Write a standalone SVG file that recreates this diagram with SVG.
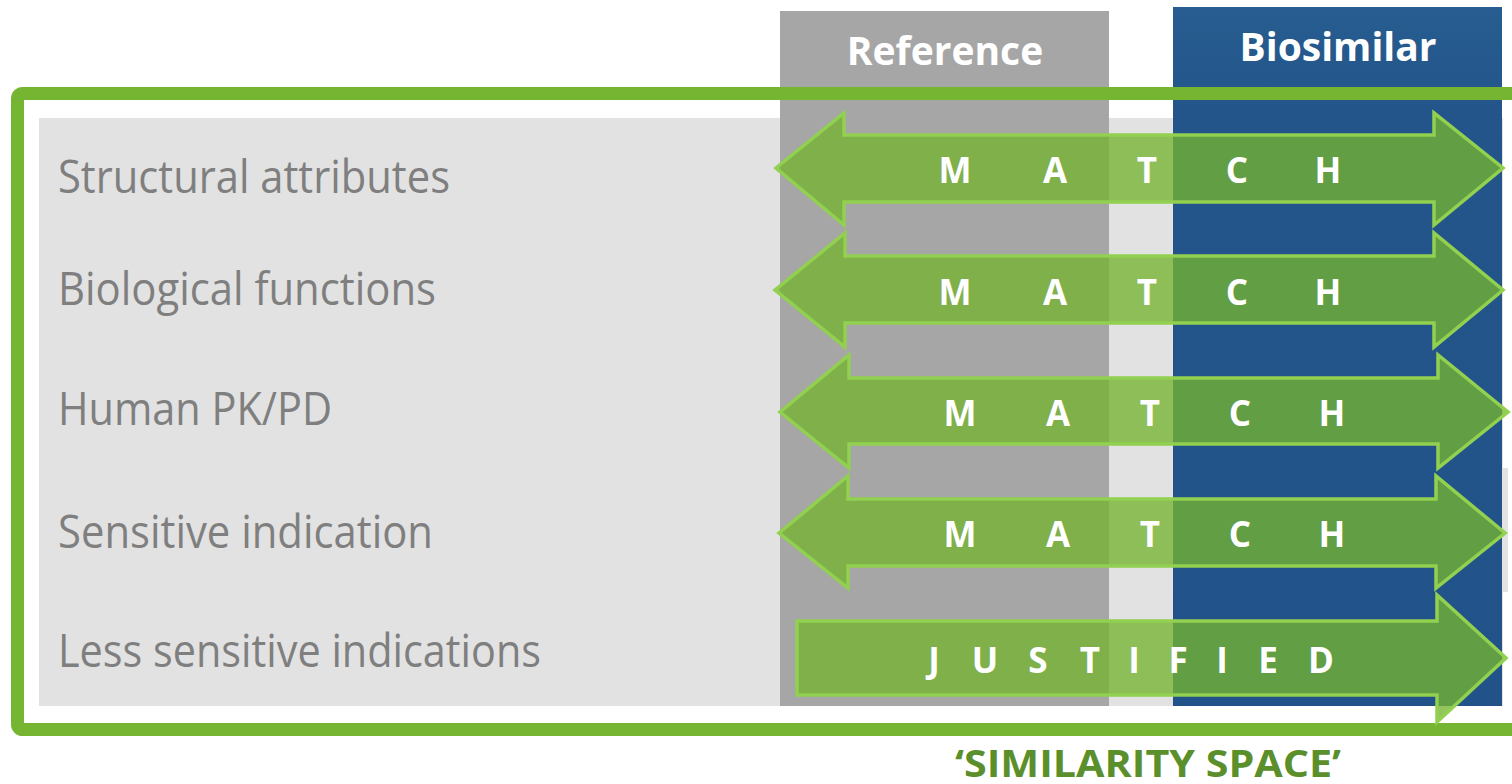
<svg xmlns="http://www.w3.org/2000/svg" width="1512" height="784" viewBox="0 0 1512 784">
  <defs>
    <linearGradient id="blueCol" x1="0" y1="0" x2="0" y2="1">
      <stop offset="0" stop-color="#275D90"/>
      <stop offset="0.15" stop-color="#23558A"/>
      <stop offset="1" stop-color="#21538A"/>
    </linearGradient>
  </defs>
  <style>
    .label { font-family: "Open Sans", "Noto Sans", sans-serif; font-size: 45px; fill: #7F7F7F; }
    .head { font-family: "Open Sans", "Noto Sans", sans-serif; font-size: 39px; font-weight: 700; fill: #FFFFFF; text-anchor: middle; }
    .arrow { fill: rgb(117,180,49); fill-opacity: 0.78; stroke: #92D050; stroke-width: 3.5; stroke-linejoin: miter; }
    .letter { font-family: "Open Sans", "Noto Sans", sans-serif; font-size: 35px; font-weight: 700; fill: #FFFFFF; text-anchor: middle; }
    .caption { font-family: "Open Sans", "Noto Sans", sans-serif; font-size: 37px; font-weight: 700; fill: #5B8F2B; }
  </style>

  <!-- background panels -->
  <g id="panels">
    <rect x="39" y="118" width="1464" height="588" fill="#E2E2E2"/>
    <rect x="1502" y="468" width="6" height="124" fill="#E2E2E2"/>
    <rect id="col-reference" x="780" y="11" width="329" height="695" fill="#A6A6A6"/>
    <rect id="col-biosimilar" x="1173" y="7" width="329" height="699" fill="url(#blueCol)"/>
  </g>

  <!-- column headers -->
  <g id="headers">
    <text class="head" x="945" y="65">Reference</text>
    <text class="head" x="1338" y="61">Biosimilar</text>
  </g>

  <!-- similarity space frame -->
  <rect id="frame" x="17.5" y="93.5" width="1530" height="636" rx="5" fill="none" stroke="#76B531" stroke-width="13"/>

  <!-- row labels -->
  <g id="labels">
    <text class="label" x="58" y="193" textLength="392" lengthAdjust="spacingAndGlyphs">Structural attributes</text>
    <text class="label" x="58" y="305" textLength="378" lengthAdjust="spacingAndGlyphs">Biological functions</text>
    <text class="label" x="58" y="425" textLength="274" lengthAdjust="spacingAndGlyphs">Human PK/PD</text>
    <text class="label" x="58" y="548" textLength="375" lengthAdjust="spacingAndGlyphs">Sensitive indication</text>
    <text class="label" x="58" y="667" textLength="483" lengthAdjust="spacingAndGlyphs">Less sensitive indications</text>
  </g>

  <!-- comparison arrows -->
  <g id="connectors">
    <g id="row-structural">
      <path class="arrow" d="M776,168 L844,113 L844,135 L1434,135 L1434,113 L1503,168 L1434,225 L1434,202 L844,202 L844,225 Z"/>
      <text class="letter" x="955" y="183">M</text>
      <text class="letter" x="1055" y="183">A</text>
      <text class="letter" x="1147" y="183">T</text>
      <text class="letter" x="1237" y="183">C</text>
      <text class="letter" x="1328" y="183">H</text>
    </g>
    <g id="row-biological">
      <path class="arrow" d="M775,290 L845,233 L845,256 L1434,256 L1434,233 L1503,290 L1434,347 L1434,323 L845,323 L845,347 Z"/>
      <text class="letter" x="955" y="305">M</text>
      <text class="letter" x="1055" y="305">A</text>
      <text class="letter" x="1147" y="305">T</text>
      <text class="letter" x="1237" y="305">C</text>
      <text class="letter" x="1328" y="305">H</text>
    </g>
    <g id="row-pkpd">
      <path class="arrow" d="M780,412 L849,355 L849,378 L1438,378 L1438,355 L1508,412 L1438,468 L1438,444 L849,444 L849,468 Z"/>
      <text class="letter" x="960" y="426">M</text>
      <text class="letter" x="1058" y="426">A</text>
      <text class="letter" x="1150" y="426">T</text>
      <text class="letter" x="1240" y="426">C</text>
      <text class="letter" x="1332" y="426">H</text>
    </g>
    <g id="row-sensitive">
      <path class="arrow" d="M779,533 L848,476 L848,499 L1436,499 L1436,476 L1505,533 L1436,588 L1436,566 L848,566 L848,588 Z"/>
      <text class="letter" x="960" y="547">M</text>
      <text class="letter" x="1058" y="547">A</text>
      <text class="letter" x="1150" y="547">T</text>
      <text class="letter" x="1240" y="547">C</text>
      <text class="letter" x="1332" y="547">H</text>
    </g>
    <g id="row-less-sensitive">
      <path class="arrow" d="M797,621 L1437,621 L1437,595 L1506,658 L1437,722 L1437,695 L797,695 Z"/>
      <text class="letter" x="934" y="673">J</text>
      <text class="letter" x="985" y="673">U</text>
      <text class="letter" x="1038" y="673">S</text>
      <text class="letter" x="1090" y="673">T</text>
      <text class="letter" x="1134" y="673">I</text>
      <text class="letter" x="1178" y="673">F</text>
      <text class="letter" x="1222" y="673">I</text>
      <text class="letter" x="1268" y="673">E</text>
      <text class="letter" x="1321" y="673">D</text>
    </g>
  </g>

  <!-- caption -->
  <text id="caption" class="caption" x="955" y="777" textLength="386" lengthAdjust="spacingAndGlyphs">‘SIMILARITY SPACE’</text>
</svg>
